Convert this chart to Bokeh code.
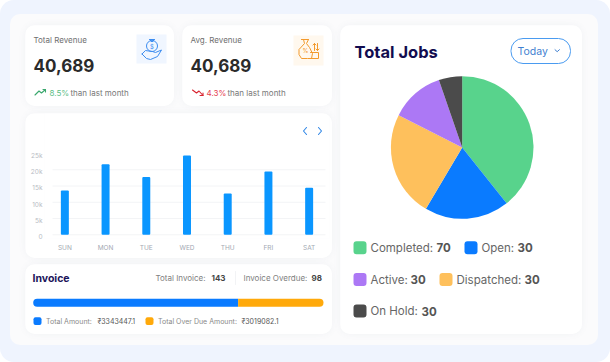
from math import pi
from bokeh.plotting import figure
from bokeh.layouts import row, column
from bokeh.models import Range1d, FixedTicker, LinearAxis
from bokeh.core.properties import value
from bokeh.embed import file_html
from bokeh.resources import INLINE

# ---- data ----
days = ["SUN", "MON", "TUE", "WED", "THU", "FRI", "SAT"]
revenue = [13600, 21700, 17800, 24400, 12700, 19500, 14500]
y_ticks = [0, 5000, 10000, 15000, 20000, 25000]
y_tick_labels = ["0", "5k", "10k", "15k", "20k", "25k"]

job_names = ["Completed", "Open", "Dispatched", "Active", "On Hold"]
job_shares = [39.3, 19.2, 24.0, 12.2, 5.3]
job_colors = ["#58d38c", "#0a7bff", "#fec05c", "#ac78f5", "#4b4b4b"]
job_counts = {"Completed": "70", "Open": "30", "Active": "30", "Dispatched": "30", "On Hold": "30"}

invoice_shares = [70.6, 29.4]
invoice_colors = ["#0a7bff", "#ffa90a"]
total_invoice = "143"
invoice_overdue = "98"
total_amount = "₹3343447.1"
overdue_amount = "₹3019082.1"
revenue_text = "40,689"
FONT = "Inter"

CARD_STYLE = {"border-radius": "10px", "overflow": "hidden",
              "box-shadow": "0 0 7px rgba(120,130,160,0.07)"}


def card(x0, y0, w, h, margin):
    p = figure(width=w, height=h, x_range=(x0, x0 + w), y_range=(y0 + h, y0),
               toolbar_location=None, output_backend="svg", min_border=0,
               outline_line_color=None, border_fill_color="white", frame_align=False,
               background_fill_color="white", margin=margin, styles=CARD_STYLE)
    p.axis.visible = False
    p.grid.visible = False
    return p


def put(p, x, y, s, size, color, bold=False, align="left", **kw):
    p.text(x=[x], y=[y], text=[s], text_font=value(FONT), text_font_size=f"{size}px",
           text_color=color, text_baseline="middle", text_align=align,
           text_font_style="bold" if bold else "normal", **kw)


def stroke(p, xs, ys, color, w=1.0, **kw):
    p.line(xs, ys, line_color=color, line_width=w, line_cap="round", line_join="round", **kw)


# ---- revenue cards ----
c1 = card(25, 25, 149, 81, (0, 0, 0, 0))
put(c1, 33, 39, "Total Revenue", 8, "#6f6f6f")
put(c1, 33, 65, revenue_text, 17, "#2a2a2a", True)
put(c1, 49, 92, "8.5%", 8, "#5cbd86")
put(c1, 70, 92, "than last month", 8, "#777777")
stroke(c1, [34.5, 38.5, 41, 45], [94.5, 90.5, 92.5, 89], "#3aa76d", 1.1)
stroke(c1, [42.5, 45, 45], [89, 89, 91.5], "#3aa76d", 1.1)
c1.quad(left=[136], right=[166], top=[34], bottom=[63], fill_color="#f0f6ff", line_color=None)
BL = "#3d8df0"
c1.scatter([151.5], [45.5], size=11, marker="circle", fill_color=None, line_color=BL, line_width=1)
stroke(c1, [149, 154], [39, 39], BL)
stroke(c1, [149.5, 150.5, 152.5, 153.5], [39, 41, 41, 39], BL)
put(c1, 151.5, 45.5, "$", 6, BL, align="center")
stroke(c1, [141.5, 145, 148, 152, 155, 161, 157, 150, 146, 141.5], [53.5, 50, 50.5, 51, 52, 49.5, 56, 59, 58, 53.5], BL)

c2 = card(182, 25, 150, 81, (0, 0, 0, 8))
put(c2, 190, 39, "Avg. Revenue", 8, "#6f6f6f")
put(c2, 190, 65, revenue_text, 17, "#2a2a2a", True)
put(c2, 206, 92, "4.3%", 8, "#e5404f")
put(c2, 227, 92, "than last month", 8, "#777777")
stroke(c2, [192, 196, 198.5, 202.5], [89.5, 92.5, 90.5, 95], "#d8232f", 1.1)
stroke(c2, [199.5, 202.5, 202.5], [95, 95, 92.5], "#d8232f", 1.1)
c2.quad(left=[293], right=[323], top=[35], bottom=[65], fill_color="#fff8ee", line_color=None)
OR = "#f39a2d"
stroke(c2, [301, 303, 304, 298.5, 298.5, 301, 307, 311, 312, 309, 306, 308, 308],
       [39, 39, 43, 49, 54, 58, 58, 58, 53, 47, 43, 39, 39], OR)
stroke(c2, [301, 308], [39, 39], OR)
put(c2, 305, 50, "%", 6, OR, align="center")
stroke(c2, [314, 314], [43, 50], OR)
stroke(c2, [317, 317], [43, 50], OR)
stroke(c2, [312.5, 314, 315.5], [44.5, 43, 44.5], OR)
stroke(c2, [315.5, 317, 318.5], [48.5, 50, 48.5], OR)
stroke(c2, [310, 318, 318, 310], [52, 52, 58, 58], OR)

# ---- weekly revenue bars ----
FRAME_L, FRAME_R, FRAME_T, FRAME_B = 44, 329, 113, 238
BASE_Y = 234.3
px_per_unit = (BASE_Y - 153) / y_ticks[-1]
y_start = -(FRAME_B - BASE_Y) / px_per_unit
y_end = (BASE_Y - FRAME_T) / px_per_unit
label_shift = 2.3 / px_per_unit
day_pos = list(range(len(days)))
bars = figure(width=307, height=145, x_range=Range1d(-0.5, len(days) - 0.5),
              y_range=Range1d(y_start, y_end), y_axis_location=None, frame_align=False,
              toolbar_location=None, output_backend="svg", outline_line_color=None,
              min_border_left=FRAME_L - 25, min_border_right=332 - FRAME_R,
              min_border_top=0, min_border_bottom=258 - FRAME_B,
              border_fill_color="white", background_fill_color="white",
              margin=(7, 0, 0, 0), styles=CARD_STYLE)
bars.extra_x_ranges = {"px": Range1d(FRAME_L, FRAME_R)}
bars.extra_y_ranges = {"px": Range1d(FRAME_B, FRAME_T),
                       "labels": Range1d(y_start + label_shift, y_end + label_shift)}
yax = LinearAxis(y_range_name="labels")
bars.add_layout(yax, "left")
bars.grid.visible = False
bars.xaxis.ticker = FixedTicker(ticks=day_pos)
bars.xaxis.major_label_overrides = dict(zip(day_pos, days))
yax.ticker = FixedTicker(ticks=y_ticks)
yax.major_label_overrides = dict(zip(y_ticks, y_tick_labels))
yax.major_label_standoff = 2
for ax, col in ((bars.xaxis[0], "#a3a9b3"), (yax, "#b8bcc4")):
    ax.axis_line_color = None
    ax.major_tick_line_color = None
    ax.minor_tick_line_color = None
    ax.major_tick_out = 0
    ax.major_tick_in = 0
    ax.major_label_text_font = FONT
    ax.major_label_text_font_size = "6.5px"
    ax.major_label_text_color = col
bars.xaxis.major_label_standoff = 5
bars.segment(x0=[52] * 5, x1=[325] * 5, y0=y_ticks[:5], y1=y_ticks[:5], x_range_name="px",
             line_color="#f3f4f6", line_width=1)
bars.vbar(x=day_pos, top=revenue, bottom=0, width=0.196, fill_color="#0a96ff", line_color=None,
          border_radius=1)
stroke(bars, [306, 303, 306], [127, 130.5, 134], "#2f86e6", 1.1, x_range_name="px", y_range_name="px")
stroke(bars, [318, 321, 318], [127, 130.5, 134], "#2f86e6", 1.1, x_range_name="px", y_range_name="px")

# ---- invoice ----
inv = card(25, 264, 307, 70, (6, 0, 0, 0))
BAR_L, BAR_W = 32.7, 290.3
split = BAR_L + BAR_W * invoice_shares[0] / sum(invoice_shares)
put(inv, 32, 278, "Invoice", 10.5, "#1b1459", True)
put(inv, 155, 277, "Total Invoice:", 8, "#808080")
put(inv, 211, 277, total_invoice, 8, "#444444", True)
stroke(inv, [235, 235], [271, 284], "#f2f3f5")
put(inv, 243, 277, "Invoice Overdue:", 8, "#808080")
put(inv, 311, 277, invoice_overdue, 8, "#444444", True)
inv.hbar(y=[302.3], left=[BAR_L], right=[split], height=8,
         fill_color=invoice_colors[0], line_color=None, border_radius=(4, 0, 0, 4))
inv.hbar(y=[302.3], left=[split], right=[BAR_L + BAR_W], height=8,
         fill_color=invoice_colors[1], line_color=None, border_radius=(0, 4, 4, 0))
inv.quad(left=[33], right=[41], top=[316.7], bottom=[324.5], fill_color=invoice_colors[0],
         line_color=None, border_radius=2)
inv.quad(left=[145], right=[153], top=[316.7], bottom=[324.5], fill_color=invoice_colors[1],
         line_color=None, border_radius=2)
put(inv, 45.5, 320.5, "Total Amount:", 7, "#8a8a8a")
put(inv, 97, 320.5, total_amount, 7, "#555555")
put(inv, 157.5, 320.5, "Total Over Due Amount:", 7, "#8a8a8a")
put(inv, 241, 320.5, overdue_amount, 7, "#555555")

# ---- total jobs pie ----
pie = card(340, 25, 242, 309, (0, 0, 0, 8))
put(pie, 354, 51, "Total Jobs", 16.5, "#120c4f", True)
pie.quad(left=[510.5], right=[570], top=[38], bottom=[63], fill_color="white", line_color="#4a9bf0",
         line_width=1, border_radius=12)
put(pie, 517, 50.7, "Today", 10.5, "#3f7fd0")
stroke(pie, [554.5, 556.7, 558.9], [49.2, 51.2, 49.2], "#3f7fd0", 1)

starts, ends, running = [], [], 0.0
total = sum(job_shares)
for share in job_shares:
    starts.append(pi / 2 - running / total * 2 * pi)
    running += share
    ends.append(pi / 2 - running / total * 2 * pi)
pie.wedge(x=461.7, y=147, radius=71.3, start_angle=starts, end_angle=ends, direction="clock",
          fill_color=job_colors, line_color=None)

color_of = dict(zip(job_names, job_colors))
legend_rows = [("Completed", 353, 247.3, 436), ("Open", 464, 247.3, 517),
               ("Active", 353, 279, 410), ("Dispatched", 439, 279, 524), ("On Hold", 353, 310.5, 421)]
for name, lx, ly, vx in legend_rows:
    pie.quad(left=[lx], right=[lx + 13], top=[ly - 6.5], bottom=[ly + 6.5], fill_color=color_of[name],
             line_color=None, border_radius=3)
    put(pie, lx + 17, ly, f"{name}:", 11.5, "#666666")
    put(pie, vx, ly, job_counts[name], 11.5, "#555555", True)

left = column(row(c1, c2, spacing=0), bars, inv, spacing=0, margin=(0, 0, 0, 0))
inner = row(left, pie, spacing=0, margin=(11, 0, 0, 15))
root = column(inner, width=588, height=331, margin=(14, 0, 0, 10),
              styles={"background": "#fbfbfc", "border-radius": "10px"})

TEMPLATE = """
{% block preamble %}
<style>
html { background: #ffffff; overflow: hidden; }
body { margin: 0; padding: 0; box-sizing: border-box; width: 610px; height: 362px; background: #eff4fe; border-radius: 14px; overflow: hidden; }
</style>
{% endblock %}
"""

open("out.html", "w").write(file_html(root, INLINE, template=TEMPLATE))
